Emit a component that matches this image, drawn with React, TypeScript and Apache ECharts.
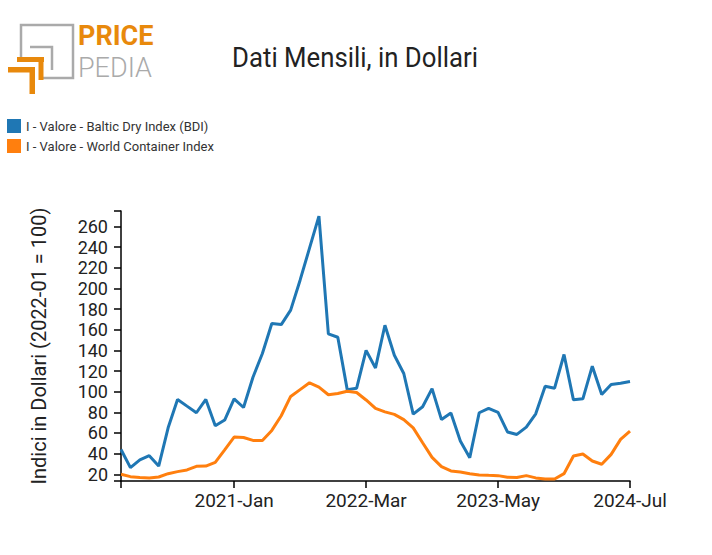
import React, { useEffect, useRef } from "react";
import * as echarts from "echarts";

const MONTHS = ["Jan", "Feb", "Mar", "Apr", "May", "Jun", "Jul", "Aug", "Sep", "Oct", "Nov", "Dec"];
const categories: string[] = [];
for (let y = 2020; y <= 2024; y++) {
  for (let m = 0; m < 12; m++) {
    if (y === 2024 && m > 6) break;
    categories.push(`${y}-${MONTHS[m]}`);
  }
}

const xLabels = ["2021-Jan", "2022-Mar", "2023-May", "2024-Jul"];
const yTicks = [20, 40, 60, 80, 100, 120, 140, 160, 180, 200, 220, 240, 260];

const bdi = [
  44, 26.4, 33.9, 38, 28, 65, 92.5, 86, 79.6, 92.5, 67, 72.5,
  93, 84.7, 114, 137, 166, 165, 179, 208, 239, 270, 156, 152.7,
  102, 103.4, 140, 123, 164.3, 135.3, 117.6, 78.3, 85.4, 103, 73, 79.3,
  52.2, 36.1, 79.6, 83.8, 80, 61, 58.6, 65.7, 78.6, 105.3, 103.4, 136,
  92.1, 93.1, 124.7, 97.3, 107, 108.2, 109.9,
];

const wci = [
  20, 17.7, 16.8, 16.5, 17.4, 20.6, 22.6, 24.2, 27.7, 28, 31.6, 43.7,
  56, 55.6, 52.8, 52.8, 62.5, 76.7, 95.4, 102, 108.6, 104.4, 97, 98.3,
  100.5, 99.2, 92, 83.8, 80.5, 78, 73, 65, 50.6, 36.4, 27.4, 23.2,
  22.3, 20.6, 19.4, 19, 18.7, 17.1, 16.8, 18.7, 16.5, 15.5, 15.5, 20.6,
  37.7, 39.6, 32.9, 29.7, 39.3, 53.8, 61.9,
];

const Y_MIN = 13.5;
const Y_MAX = 275;

export default function App() {
  const ref = useRef<HTMLDivElement>(null);
  useEffect(() => {
    if (!ref.current) return;
    const chart = echarts.init(ref.current, null, { renderer: "svg" });
    const font = "Roboto";
    const tickIdx = [0, ...xLabels.map((l) => categories.indexOf(l))];
    chart.setOption({
      animation: false,
      backgroundColor: "#fff",
      textStyle: { fontFamily: font },
      legend: {
        orient: "vertical",
        left: 7,
        top: 119,
        padding: 0,
        itemWidth: 14,
        itemHeight: 14,
        itemGap: 6,
        icon: "rect",
        textStyle: { fontFamily: font, fontSize: 13, color: "#333" },
        data: ["I - Valore - Baltic Dry Index (BDI)", "I - Valore - World Container Index"],
      },
      grid: { left: 121, right: 82, top: 211, bottom: 74, containLabel: false },
      xAxis: {
        type: "category",
        data: categories,
        boundaryGap: false,
        axisLine: { lineStyle: { color: "#000", width: 1.5 } },
        axisTick: {
          show: true,
          length: 7,
          interval: (i: number) => tickIdx.includes(i),
          lineStyle: { color: "#000", width: 1.5 },
        },
        axisLabel: {
          interval: (_i: number, v: string) => xLabels.includes(v),
          fontFamily: font,
          fontSize: 19,
          color: "#222",
          margin: 10,
        },
        splitLine: { show: false },
      },
      yAxis: {
        type: "value",
        min: Y_MIN,
        max: Y_MAX,
        name: "Indici in Dollari (2022-01 = 100)",
        nameLocation: "middle",
        nameGap: 72,
        nameTextStyle: { fontFamily: font, fontSize: 20, color: "#222" },
        axisLine: { show: true, lineStyle: { color: "#000", width: 1.5 } },
        axisTick: {
          show: true,
          length: 7,
          customValues: [Y_MIN, ...yTicks, Y_MAX],
          lineStyle: { color: "#000", width: 1.5 },
        },
        axisLabel: {
          customValues: yTicks,
          fontFamily: font,
          fontSize: 18,
          color: "#222",
          margin: 13,
        },
        splitLine: { show: false },
      },
      series: [
        {
          name: "I - Valore - Baltic Dry Index (BDI)",
          type: "line",
          data: bdi,
          showSymbol: false,
          symbol: "none",
          lineStyle: { color: "#1f77b4", width: 3 },
          itemStyle: { color: "#1f77b4" },
        },
        {
          name: "I - Valore - World Container Index",
          type: "line",
          data: wci,
          showSymbol: false,
          symbol: "none",
          lineStyle: { color: "#ff7f0e", width: 3 },
          itemStyle: { color: "#ff7f0e" },
        },
      ],
      graphic: [
        {
          type: "text",
          x: 355,
          y: 58,
          scaleX: 0.92,
          style: {
            text: "Dati Mensili, in Dollari",
            fontFamily: font,
            fontSize: 28,
            fill: "#222",
            textAlign: "center",
            textVerticalAlign: "middle",
          },
        },
        // logo gray outline
        {
          type: "polyline",
          shape: { points: [[21, 58], [21, 25], [73, 25], [73, 78], [43, 78]] },
          style: { stroke: "#aaa", lineWidth: 2.5, fill: null },
        },
        {
          type: "polyline",
          shape: { points: [[30, 47], [52, 47], [52, 70]] },
          style: { stroke: "#aaa", lineWidth: 2.5, fill: null },
        },
        // orange L shapes
        { type: "rect", shape: { x: 17, y: 57, width: 27, height: 5 }, style: { fill: "#e8890c" } },
        { type: "rect", shape: { x: 38.5, y: 57, width: 5, height: 23 }, style: { fill: "#e8890c" } },
        { type: "rect", shape: { x: 8, y: 67, width: 27, height: 5.5 }, style: { fill: "#e8890c" } },
        { type: "rect", shape: { x: 29.5, y: 67, width: 5.5, height: 27 }, style: { fill: "#e8890c" } },
        {
          type: "text",
          x: 78,
          y: 35.5,
          style: {
            text: "PRICE",
            fontFamily: font,
            fontSize: 27,
            fontWeight: "bold",
            fill: "#e8890c",
            textVerticalAlign: "middle",
          },
        },
        {
          type: "text",
          x: 78,
          y: 67.5,
          style: {
            text: "PEDIA",
            fontFamily: font,
            fontSize: 27,
            fontWeight: 300,
            fill: "#aaa",
            textVerticalAlign: "middle",
          },
        },
      ],
    });
    return () => chart.dispose();
  }, []);
  return (
    <div
      ref={ref}
      style={{ position: "absolute", left: 0, top: 0, width: 712, height: 555 }}
    />
  );
}
